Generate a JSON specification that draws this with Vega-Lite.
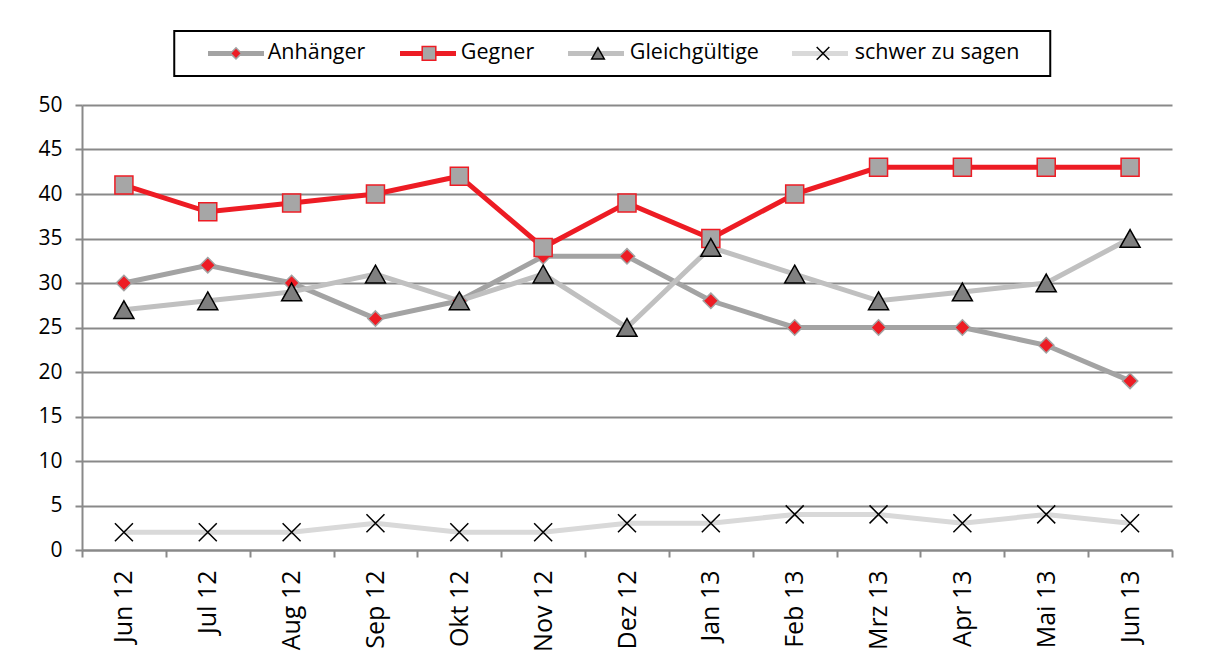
{
  "$schema": "https://vega.github.io/schema/vega-lite/v6.json",
  "autosize": {"type": "none"},
  "width": 1090,
  "height": 445,
  "padding": {"left": 82, "top": 105, "right": 43, "bottom": 118},
  "background": "white",
  "data": {
    "values": [
      {"month": "Jun 12", "series": "Anhänger", "value": 30},
      {"month": "Jul 12", "series": "Anhänger", "value": 32},
      {"month": "Aug 12", "series": "Anhänger", "value": 30},
      {"month": "Sep 12", "series": "Anhänger", "value": 26},
      {"month": "Okt 12", "series": "Anhänger", "value": 28},
      {"month": "Nov 12", "series": "Anhänger", "value": 33},
      {"month": "Dez 12", "series": "Anhänger", "value": 33},
      {"month": "Jan 13", "series": "Anhänger", "value": 28},
      {"month": "Feb 13", "series": "Anhänger", "value": 25},
      {"month": "Mrz 13", "series": "Anhänger", "value": 25},
      {"month": "Apr 13", "series": "Anhänger", "value": 25},
      {"month": "Mai 13", "series": "Anhänger", "value": 23},
      {"month": "Jun 13", "series": "Anhänger", "value": 19},
      {"month": "Jun 12", "series": "Gegner", "value": 41},
      {"month": "Jul 12", "series": "Gegner", "value": 38},
      {"month": "Aug 12", "series": "Gegner", "value": 39},
      {"month": "Sep 12", "series": "Gegner", "value": 40},
      {"month": "Okt 12", "series": "Gegner", "value": 42},
      {"month": "Nov 12", "series": "Gegner", "value": 34},
      {"month": "Dez 12", "series": "Gegner", "value": 39},
      {"month": "Jan 13", "series": "Gegner", "value": 35},
      {"month": "Feb 13", "series": "Gegner", "value": 40},
      {"month": "Mrz 13", "series": "Gegner", "value": 43},
      {"month": "Apr 13", "series": "Gegner", "value": 43},
      {"month": "Mai 13", "series": "Gegner", "value": 43},
      {"month": "Jun 13", "series": "Gegner", "value": 43},
      {"month": "Jun 12", "series": "Gleichgültige", "value": 27},
      {"month": "Jul 12", "series": "Gleichgültige", "value": 28},
      {"month": "Aug 12", "series": "Gleichgültige", "value": 29},
      {"month": "Sep 12", "series": "Gleichgültige", "value": 31},
      {"month": "Okt 12", "series": "Gleichgültige", "value": 28},
      {"month": "Nov 12", "series": "Gleichgültige", "value": 31},
      {"month": "Dez 12", "series": "Gleichgültige", "value": 25},
      {"month": "Jan 13", "series": "Gleichgültige", "value": 34},
      {"month": "Feb 13", "series": "Gleichgültige", "value": 31},
      {"month": "Mrz 13", "series": "Gleichgültige", "value": 28},
      {"month": "Apr 13", "series": "Gleichgültige", "value": 29},
      {"month": "Mai 13", "series": "Gleichgültige", "value": 30},
      {"month": "Jun 13", "series": "Gleichgültige", "value": 35},
      {"month": "Jun 12", "series": "schwer zu sagen", "value": 2},
      {"month": "Jul 12", "series": "schwer zu sagen", "value": 2},
      {"month": "Aug 12", "series": "schwer zu sagen", "value": 2},
      {"month": "Sep 12", "series": "schwer zu sagen", "value": 3},
      {"month": "Okt 12", "series": "schwer zu sagen", "value": 2},
      {"month": "Nov 12", "series": "schwer zu sagen", "value": 2},
      {"month": "Dez 12", "series": "schwer zu sagen", "value": 3},
      {"month": "Jan 13", "series": "schwer zu sagen", "value": 3},
      {"month": "Feb 13", "series": "schwer zu sagen", "value": 4},
      {"month": "Mrz 13", "series": "schwer zu sagen", "value": 4},
      {"month": "Apr 13", "series": "schwer zu sagen", "value": 3},
      {"month": "Mai 13", "series": "schwer zu sagen", "value": 4},
      {"month": "Jun 13", "series": "schwer zu sagen", "value": 3}
    ]
  },
  "encoding": {
    "x": {
      "field": "month",
      "type": "nominal",
      "sort": null,
      "scale": {"type": "band", "paddingInner": 0, "paddingOuter": 0},
      "axis": {
        "title": null,
        "labelAngle": -90,
        "labelFontSize": 25,
        "tickBand": "extent",
        "tickSize": 7,
        "labelPadding": 13,
        "grid": false
      }
    },
    "y": {
      "field": "value",
      "type": "quantitative",
      "scale": {"domain": [0, 50], "nice": false},
      "axis": {
        "title": null,
        "values": [0, 5, 10, 15, 20, 25, 30, 35, 40, 45, 50],
        "grid": true,
        "tickSize": 7,
        "labelPadding": 13
      }
    }
  },
  "layer": [
    {
      "mark": {"type": "line", "strokeWidth": 5, "strokeJoin": "miter"},
      "encoding": {
        "stroke": {
          "field": "series",
          "type": "nominal",
          "scale": {
            "domain": ["Anhänger", "Gegner", "Gleichgültige", "schwer zu sagen"],
            "range": ["#A3A3A3", "#ED1C24", "#C0C0C0", "#D9D9D9"]
          },
          "legend": {
            "orient": "none",
            "legendX": 92.25,
            "legendY": -74,
            "direction": "horizontal",
            "title": null,
            "symbolType": "M-3.5,0L3.5,0",
            "symbolSize": 256,
            "symbolStrokeWidth": 5,
            "symbolOffset": 39.75,
            "labelOffset": 20,
            "columnPadding": 13,
            "padding": 11.25,
            "labelLimit": 300,
            "labelOpacity": 0,
            "encoding": {"labels": {"dy": {"value": 80}}}
          }
        }
      }
    },
    {
      "mark": {"type": "point", "filled": true, "opacity": 1, "strokeWidth": 1.5},
      "encoding": {
        "color": {
          "field": "series",
          "type": "nominal",
          "scale": {
            "domain": ["Anhänger", "Gegner", "Gleichgültige", "schwer zu sagen"],
            "range": ["#ED1C24", "#A6A6A6", "#7F7F7F", "#000000"]
          },
          "legend": {
            "orient": "none",
            "legendX": 92.25,
            "legendY": -74,
            "direction": "horizontal",
            "title": null,
            "symbolSize": 256,
            "symbolStrokeWidth": 1.5,
            "symbolOffset": 39.75,
            "labelOffset": 21,
            "columnPadding": 13,
            "padding": 11.25,
            "labelLimit": 300,
            "strokeColor": "#000000"
          }
        },
        "stroke": {
          "field": "series",
          "type": "nominal",
          "scale": {
            "domain": ["Anhänger", "Gegner", "Gleichgültige", "schwer zu sagen"],
            "range": ["#A3A3A3", "#ED1C24", "#000000", "#000000"]
          },
          "legend": {
            "orient": "none",
            "legendX": 92.25,
            "legendY": -74,
            "direction": "horizontal",
            "title": null,
            "symbolSize": 256,
            "symbolStrokeWidth": 1.5,
            "symbolOffset": 39.75,
            "labelOffset": 21,
            "columnPadding": 13,
            "padding": 11.25,
            "labelLimit": 300,
            "strokeColor": "#000000"
          }
        },
        "shape": {
          "field": "series",
          "type": "nominal",
          "scale": {
            "domain": ["Anhänger", "Gegner", "Gleichgültige", "schwer zu sagen"],
            "range": [
              "M0,-0.7L0.7,0L0,0.7L-0.7,0Z",
              "M-0.85,-0.85L0.85,-0.85L0.85,0.85L-0.85,0.85Z",
              "M0,-0.7L0.79,0.7L-0.79,0.7Z",
              "M26.6,0M-0.79,-0.79L0.79,0.79M-0.79,0.79L0.79,-0.79"
            ]
          },
          "legend": {
            "orient": "none",
            "legendX": 92.25,
            "legendY": -74,
            "direction": "horizontal",
            "title": null,
            "symbolSize": 256,
            "symbolStrokeWidth": 1.5,
            "symbolOffset": 39.75,
            "labelOffset": 21,
            "columnPadding": 13,
            "padding": 11.25,
            "labelLimit": 300,
            "strokeColor": "#000000"
          }
        },
        "size": {
          "field": "series",
          "type": "nominal",
          "scale": {
            "type": "ordinal",
            "domain": ["schwer zu sagen", "Gleichgültige", "Gegner", "Anhänger"],
            "range": [519, 641, 449, 480]
          },
          "legend": null
        }
      }
    }
  ],
  "resolve": {
    "scale": {"stroke": "independent", "color": "independent", "shape": "independent", "size": "independent"}
  },
  "config": {
    "view": {"stroke": null},
    "font": "Open Sans",
    "axis": {
      "labelFont": "Open Sans",
      "labelFontSize": 21,
      "labelColor": "#000000",
      "domainColor": "#898989",
      "domainWidth": 2,
      "tickColor": "#898989",
      "tickWidth": 2,
      "gridColor": "#898989",
      "gridWidth": 2
    },
    "legend": {
      "labelFont": "Open Sans",
      "labelFontSize": 21.5,
      "labelColor": "#000000",
      "strokeWidth": 2
    }
  }
}
